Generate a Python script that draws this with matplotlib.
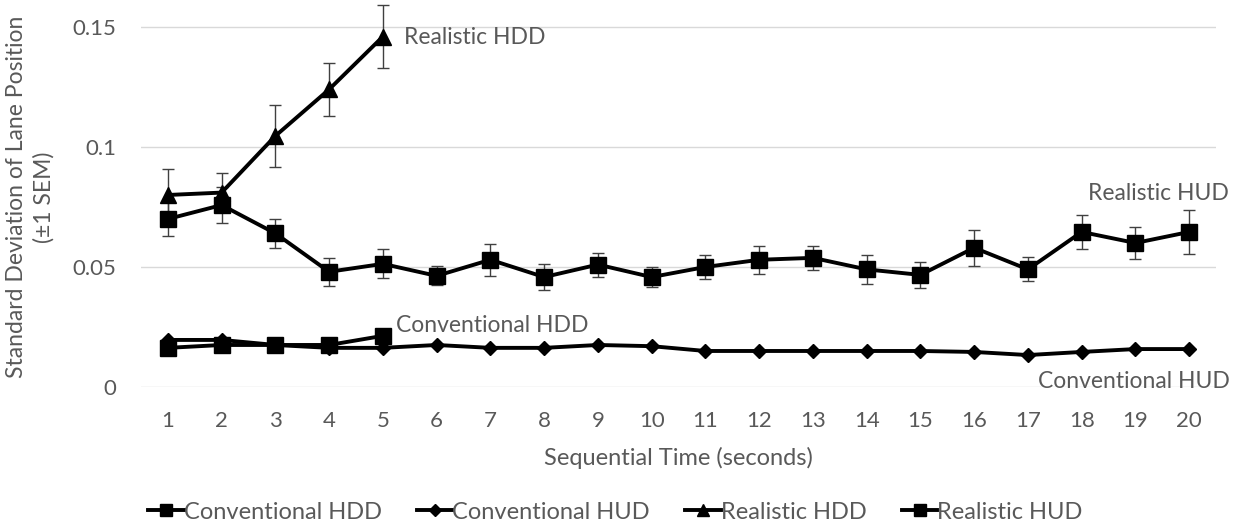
#import libraries
import numpy as np
import matplotlib.pyplot as plt

plt.rcParams['font.family'] = ['Lato', 'DejaVu Sans']

#data
seconds = list(range(1, 21))
conv_hdd = [0.0163, 0.0175, 0.0175, 0.0175, 0.0213]
conv_hud = [0.0196, 0.0196, 0.0175, 0.0163, 0.0163, 0.0175, 0.0163, 0.0163, 0.0175, 0.0170,
            0.0150, 0.0150, 0.0150, 0.0150, 0.0150, 0.0146, 0.0133, 0.0146, 0.0158, 0.0158]
real_hdd = [0.0800, 0.0810, 0.1046, 0.1240, 0.1460]
real_hdd_sem = [0.011, 0.008, 0.013, 0.011, 0.013]
real_hud = [0.0700, 0.0758, 0.0640, 0.0480, 0.0513, 0.0463, 0.0530, 0.0458, 0.0510, 0.0458,
            0.0500, 0.0530, 0.0538, 0.0490, 0.0467, 0.0580, 0.0490, 0.0646, 0.0600, 0.0646]
real_hud_sem = [0.0070, 0.0075, 0.0060, 0.0058, 0.0060, 0.0040, 0.0066, 0.0055, 0.0050, 0.0040,
                0.0050, 0.0058, 0.0050, 0.0060, 0.0055, 0.0074, 0.0050, 0.0070, 0.0067, 0.0090]

GRAY = '#595959'
FS = 16.5

fig = plt.figure(figsize=(12.41, 5.27), dpi=100)
ax = fig.add_axes([0.1136, 0.2657, 0.8663, 0.7286])

#error bars first so markers sit on top
ax.errorbar(seconds[:5], real_hdd, yerr=real_hdd_sem, fmt='none', ecolor='#404040',
            elinewidth=1, capsize=4, capthick=1, zorder=2)
ax.errorbar(seconds, real_hud, yerr=real_hud_sem, fmt='none', ecolor='#404040',
            elinewidth=1, capsize=4, capthick=1, zorder=2)

ax.plot(seconds[:5], conv_hdd, color='black', lw=2.8, marker='s', ms=11, label='Conventional HDD', zorder=4)
ax.plot(seconds, conv_hud, color='black', lw=2.8, marker='D', ms=7.5, label='Conventional HUD', zorder=3)
ax.plot(seconds[:5], real_hdd, color='black', lw=2.8, marker='^', ms=12, label='Realistic HDD', zorder=4)
ax.plot(seconds, real_hud, color='black', lw=2.8, marker='s', ms=12, label='Realistic HUD', zorder=4)

#series labels
ax.text(5.4, 0.1458, 'Realistic HDD', fontsize=FS, color=GRAY, va='center')
ax.text(20.74, 0.0808, 'Realistic HUD', fontsize=FS, color=GRAY, va='center', ha='right')
ax.text(5.25, 0.0258, 'Conventional HDD', fontsize=FS, color=GRAY, va='center')
ax.text(20.76, 0.0021, 'Conventional HUD', fontsize=FS, color=GRAY, va='center', ha='right')

ax.set_xlim(0.5, 20.5)
ax.set_ylim(0, 0.16)
ax.set_xticks(seconds)
ax.set_yticks([0, 0.05, 0.1, 0.15])
ax.set_yticklabels(['0', '0.05', '0.1', '0.15'])
ax.tick_params(axis='both', length=0, labelsize=16, labelcolor=GRAY)
ax.tick_params(axis='y', pad=18)
ax.tick_params(axis='x', pad=17)
ax.grid(axis='y', color='#d9d9d9', lw=1)
ax.set_axisbelow(True)
for s in ax.spines.values():
    s.set_visible(False)

ax.set_xlabel('Sequential Time (seconds)', fontsize=17, color=GRAY, labelpad=12)
ax.set_ylabel('Standard Deviation of Lane Position\n(\u00b11 SEM)', fontsize=16.5, color=GRAY,
              linespacing=1.35)
ax.yaxis.set_label_coords(-0.080, 0.494)

fig.legend(loc='center', bbox_to_anchor=(0.496, 0.028), ncol=4, frameon=False,
           fontsize=17, labelcolor=GRAY, handlelength=1.5, handletextpad=0.0,
           columnspacing=1.5, markerscale=0.75)

fig.savefig('out.png', dpi=100)
